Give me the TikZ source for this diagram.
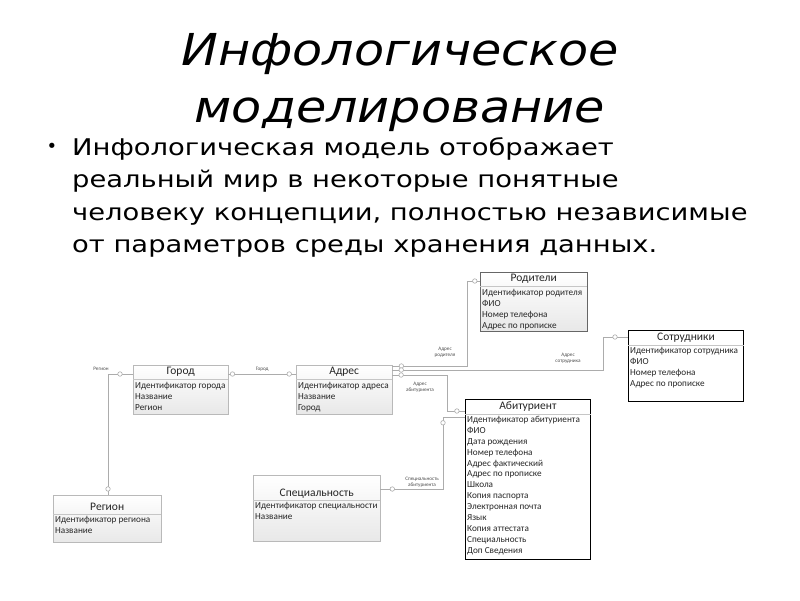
\documentclass[tikz,border=0pt]{standalone}
\usepackage{fontspec}
\setmainfont{DejaVu Sans}
\newfontfamily\titlefont[FakeStretch=1.12]{DejaVu Sans}
\newfontfamily\bodyfont[FakeStretch=1.19]{DejaVu Sans}
\newfontfamily\erfont{Carlito}
\usetikzlibrary{calc}

\begin{document}
\begin{tikzpicture}[x=1pt, y=-1pt,
    entity/.style={draw=gray!55, top color=white, bottom color=gray!18, inner sep=0pt, anchor=north west},
    chosen/.style={draw=black, fill=white, line width=0.9pt, inner sep=0pt, anchor=north west},
    etitle/.style={font=\erfont\fontsize{11.5}{12}\selectfont, text=black!85},
    rows/.style={font=\erfont\fontsize{9.2}{10.9}\selectfont, text=black!85, align=left, anchor=north west, inner sep=0pt},
    sep/.style={draw=gray!45, line width=0.5pt},
    link/.style={draw=gray!65, line width=0.7pt},
    ring/.style={circle, draw=gray!65, fill=white, inner sep=0pt, minimum size=4.5pt, line width=0.6pt},
    lbl/.style={font=\erfont\fontsize{5.2}{6.2}\selectfont, text=black!70, align=center, inner sep=1pt}]
  \useasboundingbox (0,0) rectangle (800,600);

  % title and text
  \node[anchor=base, font=\titlefont\fontsize{44}{44}\selectfont\itshape, text depth=10pt] (title1) at (400,65) {Инфологическое};
  \node[anchor=base, font=\titlefont\fontsize{44}{44}\selectfont\itshape, text height=26pt] (title2) at (400,122) {моделирование};
  \node[font=\fontsize{18}{18}\selectfont] (bullet) at (52,148) {•};
  \node[anchor=north west, align=left, inner sep=0pt, font=\bodyfont\fontsize{23}{32.3}\selectfont] (body) at (72,137.5)
    {Инфологическая модель отображает\\реальный мир в некоторые понятные\\человеку концепции, полностью независимые\\от параметров среды хранения данных.};

  % entities
  \node[entity, draw=gray!80!black, minimum width=107pt, minimum height=59pt] (roditeli) at (480,272) {};
  \node[etitle] (roditeli-t) at ($(roditeli.north)+(0,7)$) {Родители};
  \draw[sep] ($(roditeli.north west)+(0,14)$) -- ($(roditeli.north east)+(0,14)$);
  \node[rows] (roditeli-a) at ($(roditeli.north west)+(2,17)$) {Идентификатор родителя\\ФИО\\Номер телефона\\Адрес по прописке};

  \node[chosen, minimum width=115pt, minimum height=71pt] (sotr) at (628,330) {};
  \node[etitle] (sotr-t) at ($(sotr.north)+(0,8)$) {Сотрудники};
  \draw[sep] ($(sotr.north west)+(0,15)$) -- ($(sotr.north east)+(0,15)$);
  \node[rows] (sotr-a) at ($(sotr.north west)+(2,17)$) {Идентификатор сотрудника\\ФИО\\Номер телефона\\Адрес по прописке};

  \node[entity, minimum width=95pt, minimum height=49pt] (gorod) at (133,365) {};
  \node[etitle] (gorod-t) at ($(gorod.north)+(0,7)$) {Город};
  \draw[sep] ($(gorod.north west)+(0,14)$) -- ($(gorod.north east)+(0,14)$);
  \node[rows] (gorod-a) at ($(gorod.north west)+(2,17)$) {Идентификатор города\\Название\\Регион};

  \node[entity, minimum width=96pt, minimum height=49pt] (adres) at (296,365) {};
  \node[etitle] (adres-t) at ($(adres.north)+(0,7)$) {Адрес};
  \draw[sep] ($(adres.north west)+(0,14)$) -- ($(adres.north east)+(0,14)$);
  \node[rows] (adres-a) at ($(adres.north west)+(2,17)$) {Идентификатор адреса\\Название\\Город};

  \node[chosen, minimum width=125pt, minimum height=160pt] (abit) at (465,399) {};
  \node[etitle] (abit-t) at ($(abit.north)+(0,8)$) {Абитуриент};
  \draw[sep] ($(abit.north west)+(0,15)$) -- ($(abit.north east)+(0,15)$);
  \node[rows] (abit-a) at ($(abit.north west)+(2,17)$) {Идентификатор абитуриента\\ФИО\\Дата рождения\\Номер телефона\\Адрес фактический\\Адрес по прописке\\Школа\\Копия паспорта\\Электронная почта\\Язык\\Копия аттестата\\Специальность\\Доп Сведения};

  \node[entity, minimum width=108pt, minimum height=47pt] (region) at (53,495) {};
  \node[etitle] (region-t) at ($(region.north)+(0,12)$) {Регион};
  \draw[sep] ($(region.north west)+(0,19)$) -- ($(region.north east)+(0,19)$);
  \node[rows] (region-a) at ($(region.north west)+(2,21)$) {Идентификатор региона\\Название};

  \node[entity, minimum width=127pt, minimum height=66pt] (spec) at (253,475) {};
  \node[etitle] (spec-t) at ($(spec.north)+(0,19)$) {Специальность};
  \draw[sep] ($(spec.north west)+(0,25)$) -- ($(spec.north east)+(0,25)$);
  \node[rows] (spec-a) at ($(spec.north west)+(2,27)$) {Идентификатор специальности\\Название};

  % links
  \draw[link] ($(gorod.north west)+(0,9)$) -| node[ring, pos=0.26] {} node[ring, pos=0.975] {} ($(region.north west)+(55,0)$);
  \node[lbl] (l-region) at (101,369) {Регион};

  \draw[link] ($(gorod.north east)+(0,9)$) -- node[ring, pos=0.06] {} node[ring, pos=0.9] {} node[lbl, above=1pt] (l-gorod) {Город} ($(adres.north west)+(0,9)$);

  \draw[link] ($(adres.north east)+(0,1)$) -| node[ring, pos=0.06] {} ($(roditeli.north west)+(-13,9)$)
    -- node[ring, pos=0.6] {} ($(roditeli.north west)+(0,9)$);
  \node[lbl] (l-rod) at (445,352) {Адрес\\родителя};

  \draw[link] ($(adres.north east)+(0,5)$) -| node[ring, pos=0.021] {} ($(sotr.north west)+(-25,7)$)
    -- node[ring, pos=0.48] {} ($(sotr.north west)+(0,7)$);
  \node[lbl] (l-sotr) at (568,358) {Адрес\\сотрудника};

  \draw[link] ($(adres.north east)+(0,10)$) -| node[ring, pos=0.08] {} ($(abit.north west)+(-18,12)$)
    -- node[ring, pos=0.55] {} ($(abit.north west)+(0,12)$);
  \node[lbl] (l-abit) at (420,387) {Адрес\\абитуриента};

  \draw[link] ($(abit.north west)+(0,18)$) -- ($(abit.north west)+(-22,18)$)
    |- node[ring, pos=0.04] {} node[ring, pos=0.905] {} ($(spec.north east)+(0,14)$);
  \node[lbl] (l-spec) at (422,482) {Специальность\\абитуриента};
\end{tikzpicture}
\end{document}
